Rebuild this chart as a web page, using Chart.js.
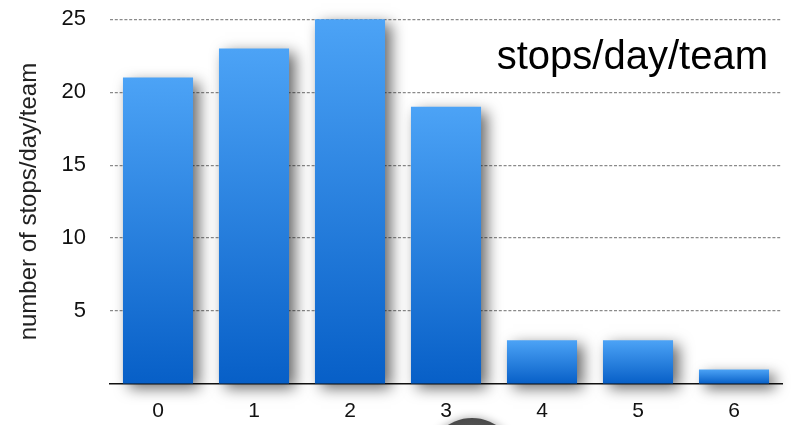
<!DOCTYPE html>
<html>
<head>
<meta charset="utf-8">
<script src="https://cdn.jsdelivr.net/npm/chart.js@4/dist/chart.umd.min.js"></script>
<style>
  html, body { margin: 0; padding: 0; background: #ffffff; }
  #wrap { width: 794px; height: 425px; position: relative; }
</style>
</head>
<body>
<div id="wrap"><canvas id="chart" width="794" height="425"></canvas></div>
<script>
// Teams (by number of extra stops) and their stops per day
const categories = ['0', '1', '2', '3', '4', '5', '6'];
const stopsPerDay = [21, 23, 25, 19, 3, 3, 1];
const yTicks = [5, 10, 15, 20, 25];
const yAxisTitle = 'number of stops/day/team';
const insetTitle = 'stops/day/team';

const FONT = '"Liberation Sans", Arial, Helvetica, sans-serif';

// Vertical gradient per bar, from its top down to the baseline
function barGradient(context) {
  const chart = context.chart;
  const { ctx, chartArea, scales } = chart;
  if (!chartArea) return '#2a7fe0';
  const v = context.raw ?? 0;
  const yTop = scales.y.getPixelForValue(v);
  const yBot = scales.y.getPixelForValue(0);
  const g = ctx.createLinearGradient(0, yTop, 0, yBot);
  g.addColorStop(0, '#4ca3f6');
  g.addColorStop(1, '#075fc7');
  return g;
}

// Soft drop shadow behind the bars
const barShadow = {
  id: 'barShadow',
  beforeDatasetsDraw(chart) {
    const ctx = chart.ctx;
    ctx.save();
    ctx.shadowColor = 'rgba(0,0,0,0.6)';
    ctx.shadowBlur = 14;
    ctx.shadowOffsetX = 6;
    ctx.shadowOffsetY = 5;
  },
  afterDatasetsDraw(chart) {
    chart.ctx.restore();
  }
};

// Title text placed inside the plot, plus the grey disc at the bottom edge
const decorations = {
  id: 'decorations',
  afterDraw(chart) {
    const ctx = chart.ctx;
    ctx.save();
    ctx.font = '40px ' + FONT;
    ctx.fillStyle = '#000';
    ctx.textAlign = 'right';
    ctx.textBaseline = 'alphabetic';
    ctx.fillText(insetTitle, 768, 69);

    ctx.shadowColor = 'rgba(0,0,0,0.35)';
    ctx.shadowBlur = 8;
    const g = ctx.createRadialGradient(472, 460, 8, 472, 463, 45);
    g.addColorStop(0, '#6a6a6a');
    g.addColorStop(1, '#4a4a4a');
    ctx.fillStyle = g;
    ctx.beginPath();
    ctx.arc(472, 463, 45, 0, Math.PI * 2);
    ctx.fill();
    ctx.restore();
  }
};

new Chart(document.getElementById('chart'), {
  type: 'bar',
  data: {
    labels: categories,
    datasets: [{
      data: stopsPerDay,
      backgroundColor: barGradient,
      borderWidth: 0,
      barPercentage: 0.73,
      categoryPercentage: 1.0,
      clip: false
    }]
  },
  options: {
    responsive: false,
    animation: false,
    devicePixelRatio: 1,
    layout: { padding: { top: 0, right: 12, left: 0, bottom: 0 } },
    plugins: {
      legend: { display: false },
      tooltip: { enabled: false },
      title: { display: false }
    },
    scales: {
      x: {
        grid: { display: false, drawTicks: false },
        border: { display: true, color: '#111', width: 1.5 },
        ticks: {
          color: '#111',
          font: { family: FONT, size: 21 },
          padding: 15
        },
        afterFit(scale) { scale.height = 41; }
      },
      y: {
        min: 0,
        max: 25,
        afterBuildTicks(scale) {
          scale.ticks = [0].concat(yTicks).map(v => ({ value: v }));
        },
        grid: {
          drawTicks: true,
          tickLength: 18,
          tickColor: 'rgba(0,0,0,0)',
          color: (c) => (c.tick && c.tick.value === 0) ? 'rgba(0,0,0,0)' : '#8a8a8a',
          lineWidth: 1.2
        },
        border: { display: false, dash: [3, 1.8] },
        ticks: {
          color: '#111',
          font: { family: FONT, size: 22 },
          padding: 6,
          callback: (v) => (v === 0 ? '' : String(v))
        },
        title: {
          display: true,
          text: yAxisTitle,
          color: '#222',
          font: { family: FONT, size: 24 },
          padding: { top: 15, bottom: 6 }
        },
        afterFit(scale) { scale.width = 110; }
      }
    }
  },
  plugins: [barShadow, decorations]
});
</script>
</body>
</html>
